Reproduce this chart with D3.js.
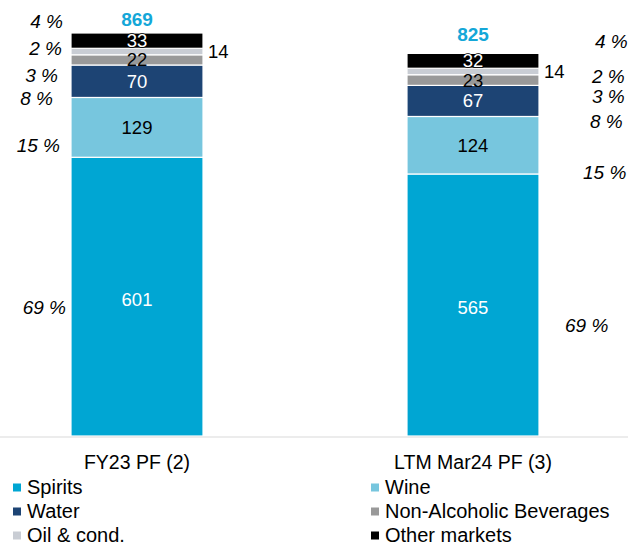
<!DOCTYPE html>
<html>
<head>
<meta charset="utf-8">
<script src="https://cdn.jsdelivr.net/npm/d3@7"></script>
<style>
  html, body { margin: 0; padding: 0; background: #fff; }
  svg { display: block; font-family: "Liberation Sans", Arial, sans-serif; }
</style>
</head>
<body>
<svg id="chart" width="628" height="546"></svg>
<script>
// Revenue by end market, two periods (stacked, bottom to top)
const categories = ["FY23 PF (2)", "LTM Mar24 PF (3)"];
const seriesNames = ["Spirits", "Wine", "Water", "Non-Alcoholic Beverages", "Oil & cond.", "Other markets"];
const spirits = [601, 565];
const wine = [129, 124];
const water = [70, 67];
const nonAlcoholic = [22, 23];
const oilCond = [14, 14];
const otherMarkets = [33, 32];
const totals = [869, 825];
// share of total per market, same order as seriesNames
const sharesFY23 = ["69 %", "15 %", "8 %", "3 %", "2 %", "4 %"];
const sharesLTM = ["69 %", "15 %", "8 %", "3 %", "2 %", "4 %"];

const seriesValues = [spirits, wine, water, nonAlcoholic, oilCond, otherMarkets];
const colors = ["#00a6d3", "#77c6de", "#1d4474", "#999999", "#c9cdd4", "#000000"];
const labelFill = ["#fff", "#000", "#fff", "#000", "#000", "#fff"];

const rows = categories.map((c, i) => {
  const r = { category: c };
  seriesNames.forEach((s, k) => { r[s] = seriesValues[k][i]; });
  return r;
});
const stacked = d3.stack().keys(seriesNames)(rows);

const svg = d3.select("#chart");

const x = d3.scaleBand()
  .domain(categories)
  .range([0, 610])
  .paddingInner(0.6071)
  .paddingOuter(0.2113);

const y = d3.scaleLinear()
  .domain([0, d3.max(totals)])
  .range([436, 33]);

// bars
const layers = svg.append("g").selectAll("g")
  .data(stacked)
  .join("g")
  .attr("fill", (d, k) => colors[k]);

layers.selectAll("rect")
  .data(d => d.map(p => ({ p, key: d.key })))
  .join("rect")
  .attr("x", d => x(d.p.data.category))
  .attr("width", x.bandwidth())
  .attr("y", d => y(d.p[1]))
  .attr("height", d => y(d.p[0]) - y(d.p[1]))
  .attr("stroke", "#fff")
  .attr("stroke-width", 1.2);

// baseline
svg.append("line")
  .attr("x1", 0).attr("x2", 628)
  .attr("y1", y(0) + 1).attr("y2", y(0) + 1)
  .attr("stroke", "#d9d9d9")
  .attr("stroke-width", 1.2);

// value labels
stacked.forEach((layer, k) => {
  layer.forEach(p => {
    const cx = x(p.data.category) + x.bandwidth() / 2;
    const cy = (y(p[0]) + y(p[1])) / 2;
    const v = p[1] - p[0];
    const t = svg.append("text")
      .attr("font-size", "18.5px")
      .attr("dy", "0.35em")
      .text(v);
    if (seriesNames[k] === "Oil & cond.") {
      t.attr("x", x(p.data.category) + x.bandwidth() + 5)
        .attr("y", cy)
        .attr("text-anchor", "start")
        .attr("fill", "#000");
    } else {
      t.attr("x", cx)
        .attr("y", cy + (k === 0 ? 3 : 0))
        .attr("text-anchor", "middle")
        .attr("fill", labelFill[k]);
      if (seriesNames[k] === "Other markets") {
        t.attr("stroke", "#000")
          .attr("stroke-width", 1.6)
          .attr("paint-order", "stroke");
      }
    }
  });
});

// totals
const totalNudge = [-14, -19.5];
categories.forEach((c, i) => {
  svg.append("text")
    .attr("x", x(c) + x.bandwidth() / 2)
    .attr("y", y(totals[i]) + totalNudge[i])
    .attr("dy", "0.35em")
    .attr("text-anchor", "middle")
    .attr("font-size", "19px")
    .attr("font-weight", "bold")
    .attr("fill", "#14a7d8")
    .text(totals[i]);
});

// share labels: left of first bar, right of second bar (nudged off segment centres)
const shareNudgeLeft = [[-5, 10.5], [-11, 17.5], [-18, 17], [-13, 15.5], [-9, -3], [-8, -19]];
const shareNudgeRight = [[26, 20], [44, 27], [51, 20], [53, 16], [53, 5], [56, -19]];
const shareSets = [sharesFY23, sharesLTM];
categories.forEach((c, i) => {
  stacked.forEach((layer, k) => {
    const p = layer[i];
    const cy = (y(p[0]) + y(p[1])) / 2;
    const left = i === 0;
    const nudge = left ? shareNudgeLeft[k] : shareNudgeRight[k];
    const edge = left ? x(c) : x(c) + x.bandwidth();
    svg.append("text")
      .attr("x", edge + nudge[0])
      .attr("y", cy + nudge[1])
      .attr("dy", "0.35em")
      .attr("text-anchor", left ? "end" : "start")
      .attr("font-size", "19px")
      .attr("font-style", "italic")
      .attr("fill", "#000")
      .text(shareSets[i][k]);
  });
});

// category axis labels
svg.append("g").selectAll("text")
  .data(categories)
  .join("text")
  .attr("x", d => x(d) + x.bandwidth() / 2)
  .attr("y", 469)
  .attr("text-anchor", "middle")
  .attr("font-size", "19.5px")
  .attr("fill", "#000")
  .text(d => d);

// legend, two columns
const legend = svg.append("g").selectAll("g")
  .data(seriesNames)
  .join("g")
  .attr("transform", (d, k) => `translate(${k % 2 === 0 ? 13 : 371},${487.5 + Math.floor(k / 2) * 24})`);
legend.append("rect")
  .attr("x", 0).attr("y", -4)
  .attr("width", 8).attr("height", 8)
  .attr("fill", (d, k) => colors[k]);
legend.append("text")
  .attr("x", 14)
  .attr("y", 6.5)
  .attr("font-size", "20px")
  .attr("fill", "#000")
  .text(d => d);
</script>
</body>
</html>
